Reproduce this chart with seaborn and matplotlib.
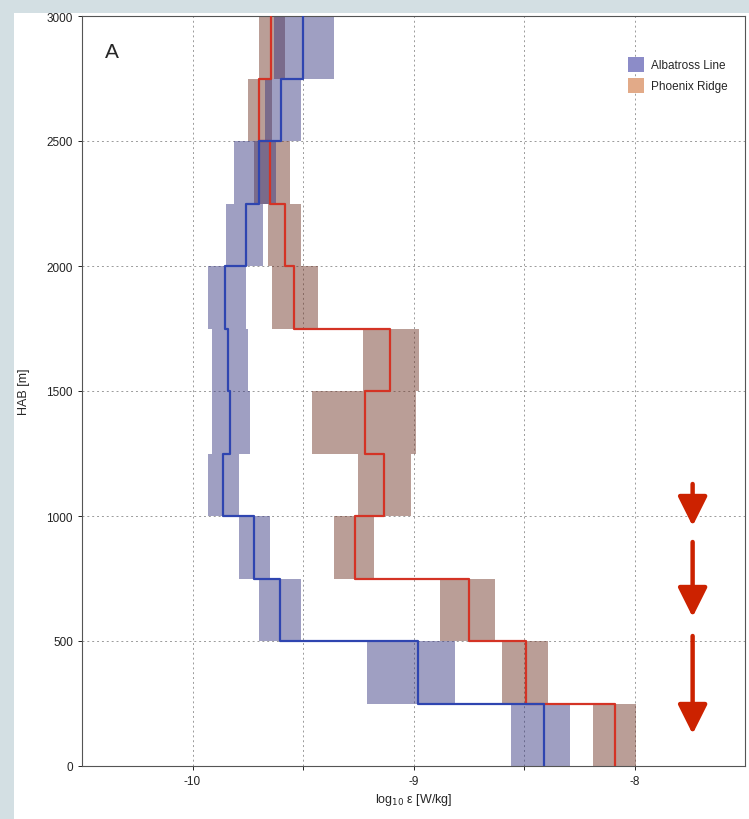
import numpy as np
import pandas as pd
import matplotlib
matplotlib.use("Agg")
import matplotlib.pyplot as plt
from matplotlib.patches import Patch, Rectangle
import seaborn as sns

# ---- data ----
bin_edges = [0, 250, 500, 750, 1000, 1250, 1500, 1750, 2000, 2250, 2500, 2750, 3000]

alb_mean = [-8.41, -8.98, -9.605, -9.72, -9.864, -9.83, -9.84, -9.855, -9.76, -9.70, -9.60, -9.50]
alb_lo   = [-8.56, -9.21, -9.70, -9.79, -9.93, -9.91, -9.91, -9.93, -9.85, -9.81, -9.67, -9.63]
alb_hi   = [-8.29, -8.81, -9.51, -9.65, -9.79, -9.74, -9.75, -9.76, -9.68, -9.62, -9.51, -9.36]

phx_mean = [-8.09, -8.49, -8.75, -9.265, -9.134, -9.22, -9.107, -9.54, -9.583, -9.65, -9.70, -9.646]
phx_lo   = [-8.19, -8.60, -8.88, -9.36, -9.25, -9.46, -9.23, -9.64, -9.66, -9.72, -9.75, -9.70]
phx_hi   = [-7.995, -8.39, -8.63, -9.18, -9.01, -8.99, -8.975, -9.43, -9.51, -9.56, -9.64, -9.58]

series_names = ["Albatross Line", "Phoenix Ridge"]
x_ticks = [-10, -9, -8]
y_ticks = [0, 500, 1000, 1500, 2000, 2500, 3000]

# ---- styling ----
sns.set_theme(style="white")
plt.rcParams["font.family"] = ["Liberation Sans", "DejaVu Sans"]

fig = plt.figure(figsize=(7.49, 8.2), dpi=100)
fig.patch.set_facecolor("#d3dfe3")
fig.add_artist(Rectangle((14 / 749, 0), 1, 1 - 14 / 820, transform=fig.transFigure,
                         facecolor="white", edgecolor="none", zorder=0))
ax = fig.add_axes([82 / 749, 53 / 820, (745 - 82) / 749, (767 - 17) / 820])
ax.set_facecolor("white")

edges = np.array(bin_edges, dtype=float)


def step_profile(vals):
    v = np.asarray(vals, dtype=float)
    ys = np.column_stack([edges[:-1], edges[1:]]).ravel()
    xs = np.repeat(v, 2)
    return pd.DataFrame({"x": xs, "y": ys})


band_cols = {"Albatross Line": "#33337f", "Phoenix Ridge": "#6e3222"}
line_cols = {"Albatross Line": "#2f45b0", "Phoenix Ridge": "#d43325"}

for name, lo, hi in [("Phoenix Ridge", phx_lo, phx_hi), ("Albatross Line", alb_lo, alb_hi)]:
    ax.fill_betweenx(edges, list(lo) + [lo[-1]], list(hi) + [hi[-1]], step="post",
                     color=band_cols[name], alpha=0.47, linewidth=0, zorder=2)

for name, mean in [("Phoenix Ridge", phx_mean), ("Albatross Line", alb_mean)]:
    df = step_profile(mean)
    sns.lineplot(data=df, x="x", y="y", sort=False, estimator=None, ax=ax,
                 color=line_cols[name], linewidth=1.6, zorder=3)

ax.set_xlim(-10.5, -7.5)
ax.set_ylim(0, 3000)
ax.set_xticks([-10, -9.5, -9, -8.5, -8])
ax.set_xticklabels([str(t) if t in x_ticks else "" for t in [-10, -9.5, -9, -8.5, -8]])
ax.set_yticks(y_ticks)
ax.set_yticklabels([str(t) for t in y_ticks])
ax.grid(True, linestyle=(0, (2, 3)), color="#9a9a9a", linewidth=0.7)
ax.set_axisbelow(True)
ax.tick_params(axis="both", which="both", direction="out", length=3, width=0.7,
               labelsize=8.5, colors="#222222", left=True, bottom=True)
for sp in ax.spines.values():
    sp.set_color("#555555")
    sp.set_linewidth(0.8)

ax.set_xlabel(r"log$_{10}$ ε [W/kg]", fontsize=9, labelpad=3)
ax.set_ylabel("HAB [m]", fontsize=9, labelpad=12)

ax.text(0.035, 0.965, "A", transform=ax.transAxes, fontsize=15, va="top", ha="left")

handles = [Patch(facecolor="#8c8cc8", edgecolor="none", label=series_names[0]),
           Patch(facecolor="#e2aa88", edgecolor="none", label=series_names[1])]
ax.legend(handles=handles, loc="upper right", bbox_to_anchor=(0.99, 0.96), frameon=False,
          fontsize=8.5, handlelength=1.4, handleheight=1.6, labelspacing=0.5,
          handletextpad=0.6)

# red arrows
arrow_kw = dict(arrowstyle="-|>,head_length=1.5,head_width=0.75", color="#cc2200",
                linewidth=3.2, shrinkA=0, shrinkB=0)
for y0, y1 in [(1128, 960), (896, 596), (520, 128)]:
    ax.annotate("", xy=(-7.737, y1), xytext=(-7.737, y0), arrowprops=arrow_kw, zorder=5)

fig.savefig("out.png", dpi=100)
